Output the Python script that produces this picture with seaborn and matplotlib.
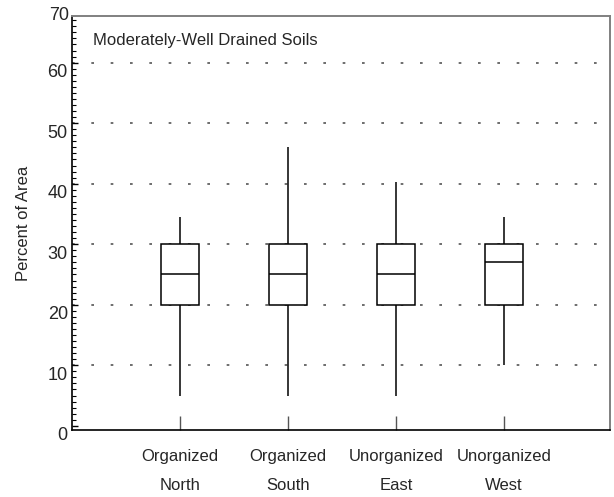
import matplotlib
matplotlib.use("Agg")
import matplotlib.pyplot as plt
import matplotlib.transforms as mtransforms
from matplotlib.ticker import MultipleLocator
import seaborn as sns
import pandas as pd

# summary values: min, q1, median, q3, max
regions = ["Organized\nNorth", "Organized\nSouth", "Unorganized\nEast", "Unorganized\nWest"]
north = [5, 20, 25, 30, 34.5]
south = [5, 20, 25, 30, 46]
east = [5, 20, 25, 30, 40.2]
west = [10, 20, 27, 30, 34.5]
title = "Moderately-Well Drained Soils"
y_label = "Percent of Area"
y_ticks = [0, 10, 20, 30, 40, 50, 60]

df = pd.DataFrame({
    "region": [r for r, vals in zip(regions, [north, south, east, west]) for _ in vals],
    "percent": north + south + east + west,
})

sns.set_style("white")
plt.rcParams["font.family"] = ["Liberation Sans", "DejaVu Sans"]
plt.rcParams["font.size"] = 12

fig = plt.figure(figsize=(6.14, 4.97), dpi=100)
ax = fig.add_axes([72 / 614, 67 / 497, 538 / 614, 414 / 497])

sns.boxplot(data=df, x="region", y="percent", order=regions, whis=(0, 100),
            width=0.35, color="white", linecolor="black", linewidth=1.1,
            showcaps=False, ax=ax)

ax.set_xlim(-1, 3.98)
ax.set_ylim(-0.7, 67.7)
ax.set_yticks(y_ticks)
ax.yaxis.set_minor_locator(MultipleLocator(1))

# short-dash horizontal grid, none at zero
ax.grid(axis="y", which="major", color="#555555", linewidth=1.2, linestyle=(0, (1.6, 10)))
ax.get_ygridlines()[0].set_visible(False)
ax.set_axisbelow(True)

ax.tick_params(axis="y", which="major", direction="in", length=4, width=1, color="black",
               pad=3, labelsize=13, left=True)
ax.tick_params(axis="y", which="minor", direction="in", length=2.8, width=0.8, color="black", left=True)
ax.tick_params(axis="x", which="major", direction="in", length=10, width=1, color="#555555",
               pad=14, labelsize=12, bottom=True)
for lab in ax.get_xticklabels():
    lab.set_linespacing(2.1)

# tick labels in the original sit a little below their ticks
shift = mtransforms.ScaledTranslation(0, -8 / 100, fig.dpi_scale_trans)
for lab in ax.get_yticklabels():
    lab.set_transform(lab.get_transform() + shift)
ax.text(-0.0056, 1.0, "70", transform=ax.transAxes, ha="right", va="center", fontsize=13)

ax.set_xlabel("")
ax.set_ylabel(y_label, fontsize=12, labelpad=12)
ax.text(0.039, 0.94, title, transform=ax.transAxes, ha="left", va="center", fontsize=12)

for side in ["left", "bottom"]:
    ax.spines[side].set_color("black")
    ax.spines[side].set_linewidth(1.2)
for side in ["top", "right"]:
    ax.spines[side].set_color("#808080")
    ax.spines[side].set_linewidth(1.4)

fig.savefig("out.png", dpi=100)
